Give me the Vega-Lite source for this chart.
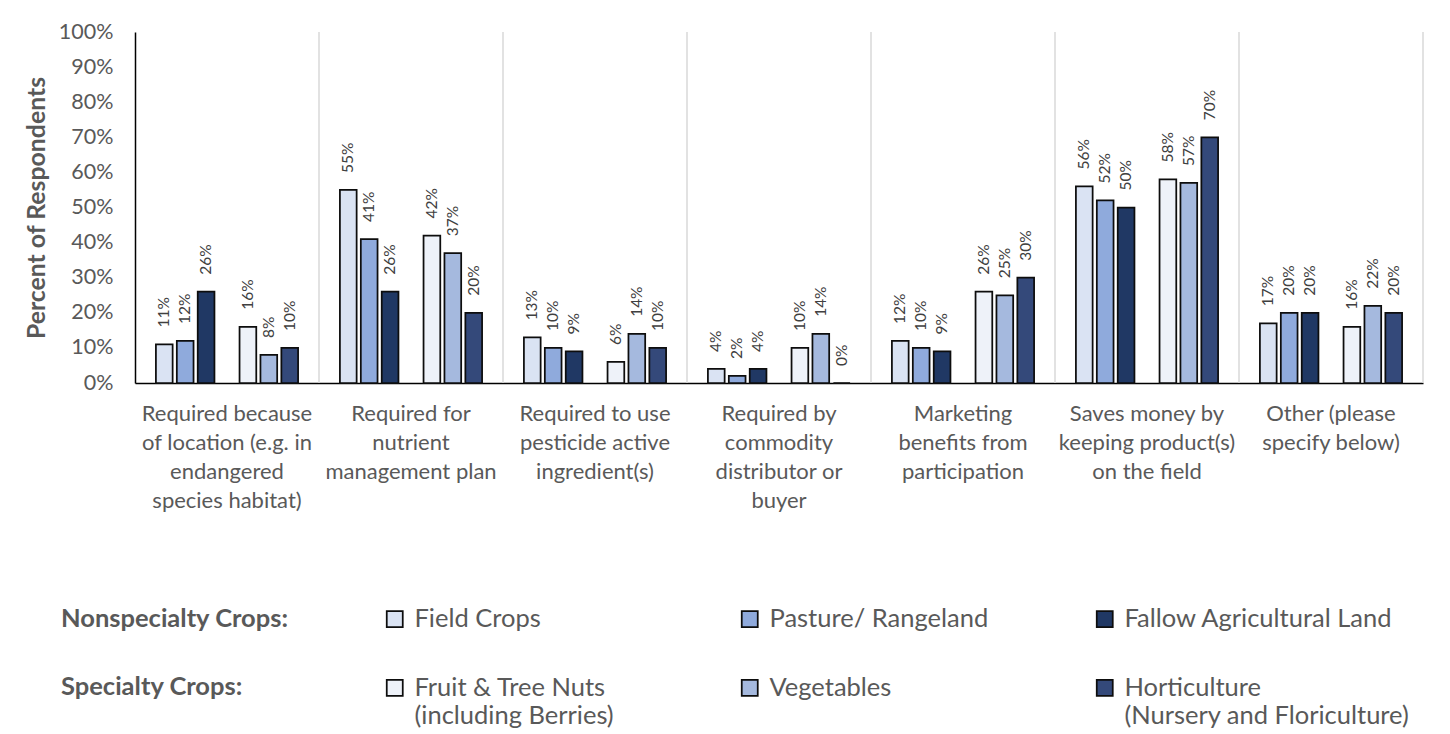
{
  "$schema": "https://vega.github.io/schema/vega-lite/v6.json",
  "width": 1288,
  "height": 351,
  "autosize": {"type": "none"},
  "padding": {"left": 135, "top": 32, "right": 27, "bottom": 351},
  "background": "white",
  "config": {
    "font": "Lato",
    "view": {"stroke": null},
    "axis": {"ticks": false, "domainColor": "#000000", "domainWidth": 1.5, "labelColor": "#595959", "grid": false}
  },
  "data": {
    "values": [
      {"reason": "Required because\nof location (e.g. in\nendangered\nspecies habitat)", "series": "Field Crops", "pct": 0.11},
      {"reason": "Required because\nof location (e.g. in\nendangered\nspecies habitat)", "series": "Pasture/ Rangeland", "pct": 0.12},
      {"reason": "Required because\nof location (e.g. in\nendangered\nspecies habitat)", "series": "Fallow Agricultural Land", "pct": 0.26},
      {"reason": "Required because\nof location (e.g. in\nendangered\nspecies habitat)", "series": "Fruit & Tree Nuts\n(including Berries)", "pct": 0.16},
      {"reason": "Required because\nof location (e.g. in\nendangered\nspecies habitat)", "series": "Vegetables", "pct": 0.08},
      {"reason": "Required because\nof location (e.g. in\nendangered\nspecies habitat)", "series": "Horticulture\n(Nursery and Floriculture)", "pct": 0.10},

      {"reason": "Required for\nnutrient\nmanagement plan", "series": "Field Crops", "pct": 0.55},
      {"reason": "Required for\nnutrient\nmanagement plan", "series": "Pasture/ Rangeland", "pct": 0.41},
      {"reason": "Required for\nnutrient\nmanagement plan", "series": "Fallow Agricultural Land", "pct": 0.26},
      {"reason": "Required for\nnutrient\nmanagement plan", "series": "Fruit & Tree Nuts\n(including Berries)", "pct": 0.42},
      {"reason": "Required for\nnutrient\nmanagement plan", "series": "Vegetables", "pct": 0.37},
      {"reason": "Required for\nnutrient\nmanagement plan", "series": "Horticulture\n(Nursery and Floriculture)", "pct": 0.20},

      {"reason": "Required to use\npesticide active\ningredient(s)", "series": "Field Crops", "pct": 0.13},
      {"reason": "Required to use\npesticide active\ningredient(s)", "series": "Pasture/ Rangeland", "pct": 0.10},
      {"reason": "Required to use\npesticide active\ningredient(s)", "series": "Fallow Agricultural Land", "pct": 0.09},
      {"reason": "Required to use\npesticide active\ningredient(s)", "series": "Fruit & Tree Nuts\n(including Berries)", "pct": 0.06},
      {"reason": "Required to use\npesticide active\ningredient(s)", "series": "Vegetables", "pct": 0.14},
      {"reason": "Required to use\npesticide active\ningredient(s)", "series": "Horticulture\n(Nursery and Floriculture)", "pct": 0.10},

      {"reason": "Required by\ncommodity\ndistributor or\nbuyer", "series": "Field Crops", "pct": 0.04},
      {"reason": "Required by\ncommodity\ndistributor or\nbuyer", "series": "Pasture/ Rangeland", "pct": 0.02},
      {"reason": "Required by\ncommodity\ndistributor or\nbuyer", "series": "Fallow Agricultural Land", "pct": 0.04},
      {"reason": "Required by\ncommodity\ndistributor or\nbuyer", "series": "Fruit & Tree Nuts\n(including Berries)", "pct": 0.10},
      {"reason": "Required by\ncommodity\ndistributor or\nbuyer", "series": "Vegetables", "pct": 0.14},
      {"reason": "Required by\ncommodity\ndistributor or\nbuyer", "series": "Horticulture\n(Nursery and Floriculture)", "pct": 0.0},

      {"reason": "Marketing\nbenefits from\nparticipation", "series": "Field Crops", "pct": 0.12},
      {"reason": "Marketing\nbenefits from\nparticipation", "series": "Pasture/ Rangeland", "pct": 0.10},
      {"reason": "Marketing\nbenefits from\nparticipation", "series": "Fallow Agricultural Land", "pct": 0.09},
      {"reason": "Marketing\nbenefits from\nparticipation", "series": "Fruit & Tree Nuts\n(including Berries)", "pct": 0.26},
      {"reason": "Marketing\nbenefits from\nparticipation", "series": "Vegetables", "pct": 0.25},
      {"reason": "Marketing\nbenefits from\nparticipation", "series": "Horticulture\n(Nursery and Floriculture)", "pct": 0.30},

      {"reason": "Saves money by\nkeeping product(s)\non the field", "series": "Field Crops", "pct": 0.56},
      {"reason": "Saves money by\nkeeping product(s)\non the field", "series": "Pasture/ Rangeland", "pct": 0.52},
      {"reason": "Saves money by\nkeeping product(s)\non the field", "series": "Fallow Agricultural Land", "pct": 0.50},
      {"reason": "Saves money by\nkeeping product(s)\non the field", "series": "Fruit & Tree Nuts\n(including Berries)", "pct": 0.58},
      {"reason": "Saves money by\nkeeping product(s)\non the field", "series": "Vegetables", "pct": 0.57},
      {"reason": "Saves money by\nkeeping product(s)\non the field", "series": "Horticulture\n(Nursery and Floriculture)", "pct": 0.70},

      {"reason": "Other (please\nspecify below)", "series": "Field Crops", "pct": 0.17},
      {"reason": "Other (please\nspecify below)", "series": "Pasture/ Rangeland", "pct": 0.20},
      {"reason": "Other (please\nspecify below)", "series": "Fallow Agricultural Land", "pct": 0.20},
      {"reason": "Other (please\nspecify below)", "series": "Fruit & Tree Nuts\n(including Berries)", "pct": 0.16},
      {"reason": "Other (please\nspecify below)", "series": "Vegetables", "pct": 0.22},
      {"reason": "Other (please\nspecify below)", "series": "Horticulture\n(Nursery and Floriculture)", "pct": 0.20}
    ]
  },
  "encoding": {
    "x": {
      "field": "reason",
      "type": "nominal",
      "sort": null,
      "scale": {"paddingInner": 0, "paddingOuter": 0},
      "axis": {
        "title": null,
        "labelAngle": 0,
        "labelFontSize": 22,
        "labelLineHeight": 29,
        "labelPadding": 20,
        "labelBaseline": "top",
        "labelLimit": 260,
        "labelExpr": "split(datum.label, '\\n')"
      }
    },
    "y": {
      "field": "pct",
      "type": "quantitative",
      "scale": {"domain": [0, 1], "nice": false},
      "axis": {
        "tickCount": 10,
        "format": ".0%",
        "labelFontSize": 21.5,
        "labelPadding": 22,
        "labelOverlap": false,
        "labelFlush": false,
        "labelBound": false,
        "labelSeparation": 0,
        "title": "Percent of Respondents",
        "titleFontSize": 24.8,
        "titleFontWeight": "bold",
        "titleColor": "#595959",
        "titlePadding": 9
      }
    }
  },
  "layer": [
    {
      "transform": [{"filter": "datum.series === 'Field Crops'"}],
      "mark": {"type": "rule", "color": "#d9d9d9", "strokeWidth": 1.5},
      "encoding": {
        "x": {"field": "reason", "type": "nominal", "sort": null, "bandPosition": 1},
        "y": {"datum": 0},
        "y2": {"datum": 1}
      }
    },
    {
      "mark": {"type": "bar", "stroke": "#0d0d0d", "strokeWidth": 1.75},
      "encoding": {
        "xOffset": {
          "field": "series",
          "type": "nominal",
          "scale": {
            "domain": ["Field Crops", "Pasture/ Rangeland", "Fallow Agricultural Land", "spacer", "Fruit & Tree Nuts\n(including Berries)", "Vegetables", "Horticulture\n(Nursery and Floriculture)"],
            "paddingInner": 0.2,
            "paddingOuter": 1.8
          }
        },
        "color": {
          "field": "series",
          "type": "nominal",
          "scale": {
            "domain": ["Field Crops", "Pasture/ Rangeland", "Fallow Agricultural Land", "Fruit & Tree Nuts\n(including Berries)", "Vegetables", "Horticulture\n(Nursery and Floriculture)"],
            "range": ["#dae3f3", "#8faadc", "#203864", "#eef2f9", "#a5b9de", "#34497a"]
          },
          "legend": {
            "orient": "none",
            "legendX": -74,
            "legendY": 560,
            "direction": "horizontal",
            "columns": 3,
            "gridAlign": "all",
            "columnPadding": 37,
            "rowPadding": 28,
            "padding": 0,
            "title": ["Nonspecialty Crops:", "Specialty Crops:"],
            "titleOrient": "left",
            "titleAnchor": "start",
            "titleBaseline": "top",
            "titleFontSize": 25.5,
            "titleFontWeight": "bold",
            "titleColor": "#595959",
            "titleLineHeight": 68,
            "titlePadding": 93,
            "titleLimit": 400,
            "symbolType": "square",
            "symbolSize": 256,
            "symbolStrokeColor": "#0d0d0d",
            "symbolStrokeWidth": 1.75,
            "labelFontSize": 25.5,
            "labelColor": "#595959",
            "labelOffset": 7,
            "labelLimit": 400,
            "labelExpr": "split(datum.label, '\\n')",
            "encode": {
              "title": {"update": {"dy": {"value": 15}}},
              "labels": {"update": {"lineHeight": {"value": 28}}}
            }
          }
        }
      }
    },
    {
      "mark": {"type": "text", "angle": 270, "align": "left", "baseline": "middle", "dx": 17, "fontSize": 15.5, "color": "#404040"},
      "encoding": {
        "xOffset": {"field": "series", "type": "nominal"},
        "text": {"field": "pct", "type": "quantitative", "format": ".0%"}
      }
    }
  ]
}
